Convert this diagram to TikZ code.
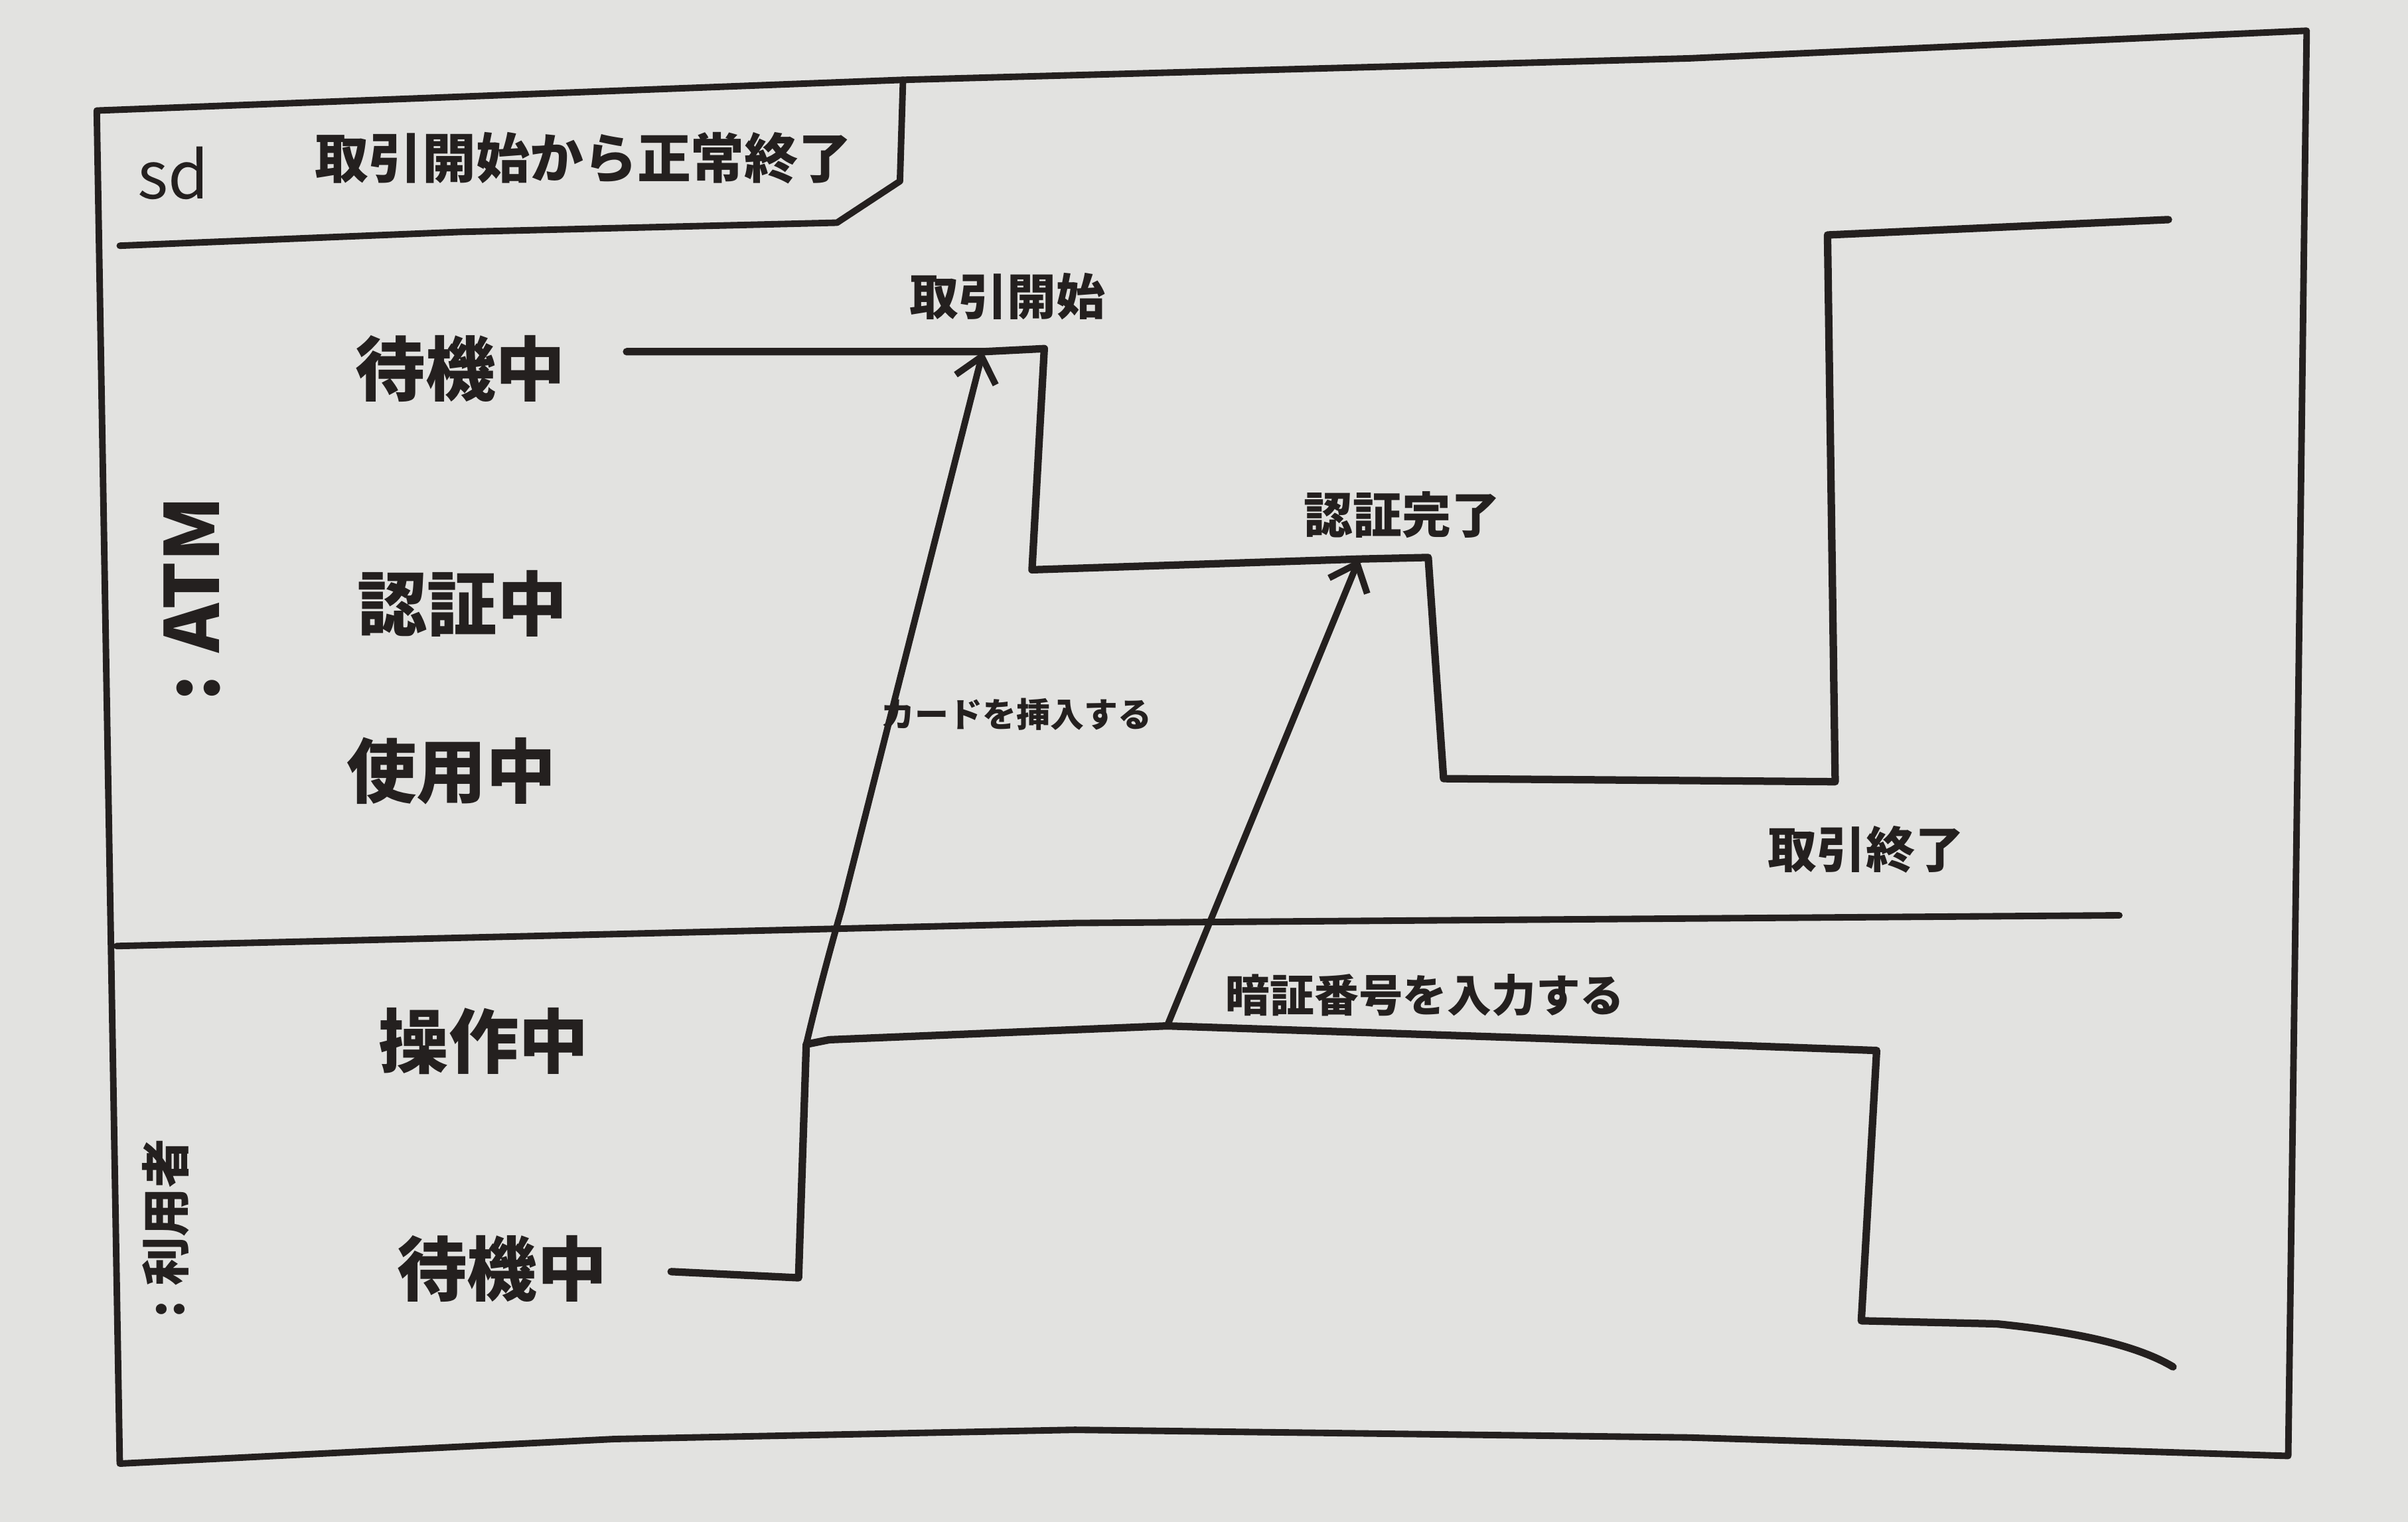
\documentclass[tikz,border=0pt]{standalone}
\usepackage{fontspec}
\setmainfont{Noto Sans CJK JP}
\usetikzlibrary{arrows.meta}
\definecolor{board}{RGB}{226,226,224}
\definecolor{ink}{RGB}{36,32,31}
\begin{document}
\begin{tikzpicture}[x=0.023138cm,y=-0.023138cm,
  pen/.style={draw=ink,line width=2.8pt,line cap=round,line join=round},
  wave/.style={pen,line width=3.2pt},
  msg/.style={pen,line width=2.8pt,-{Straight Barb[length=0.36cm,width=0.62cm,line width=2.8pt]}},
  txt/.style={text=ink,inner sep=0pt},
  state/.style={txt,font=\fontsize{30}{34}\selectfont\bfseries},
  event/.style={txt,font=\fontsize{21}{24}\selectfont\bfseries},
  small/.style={txt,font=\fontsize{14.5}{17}\selectfont\bfseries},
  lifeline/.style={txt,rotate=90}]
% whiteboard
\fill[board] (0,0) rectangle (1568,991);
\useasboundingbox (0,0) rectangle (1568,991);

% outer frame
\draw[pen] (63,72) -- (588,52) -- (1100,38) -- (1502,20) -- (1496,500)
  -- (1490,948) -- (1100,936) -- (700,931) -- (400,937) -- (78,953) -- cycle;
% title tab
\draw[pen] (588,52) -- (586,118) -- (545,145) -- (300,151) -- (78,160);
\node[txt,font=\fontsize{28}{32}\selectfont] (sd) at (113,113) {sd};
\node[txt,font=\fontsize{23}{28}\selectfont\bfseries] (title) at (380,103) {取引開始から正常終了};

% lane divider
\draw[pen] (76,616) -- (700,601) -- (1380,596);

% lifeline names
\node[lifeline,font=\fontsize{32}{36}\selectfont\bfseries] (atm) at (125,390) {: ATM};
\node[lifeline,font=\fontsize{21}{24}\selectfont\bfseries] (user) at (108,800) {: 利用者};

% state names
\node[state] (aWait) at (300,240) {待機中};
\node[state] (aAuth) at (301,393) {認証中};
\node[state] (aUse)  at (294,502) {使用中};
\node[state] (uOp)   at (315,678) {操作中};
\node[state] (uWait) at (327,826) {待機中};

% ATM state line
\coordinate (a0) at (408,229);
\coordinate (a1) at (640,229);
\coordinate (a2) at (680,227);
\coordinate (a3) at (672,371);
\coordinate (b1) at (885,364);
\coordinate (a4) at (930,363);
\coordinate (a5) at (940,507);
\coordinate (a6) at (1195,509);
\coordinate (a7) at (1190,153);
\coordinate (a8) at (1412,143);
\draw[wave] (a0) -- (a1) -- (a2) -- (a3) -- (b1) -- (a4) -- (a5) -- (a6) -- (a7) -- (a8);

% user state line
\coordinate (u0) at (437,828);
\coordinate (u1) at (520,832);
\coordinate (u2) at (525,680);
\coordinate (u3) at (760,668);
\coordinate (u4) at (1222,684);
\coordinate (u5) at (1212,860);
\coordinate (u6) at (1300,862);
\coordinate (u7) at (1415,890);
\draw[wave] (u0) -- (u1) -- (u2) -- (540,677) -- (u3) -- (1000,676) -- (u4)
  -- (u5) -- (u6) .. controls (1360,868) and (1395,878) .. (u7);

% messages
\draw[msg] (u2) .. controls (532,650) and (540,620) .. (548,592) -- (a1);
\draw[msg] (u3) -- (b1);

% event labels
\node[event] (evStart) at (656,193) {取引開始};
\node[event] (evAuth)  at (913,335) {認証完了};
\node[event] (evEnd)   at (1215,553) {取引終了};
\node[small] (mCard)   at (662,465) {カードを挿入する};
\node[txt,font=\fontsize{19}{22}\selectfont\bfseries] (mPin) at (928,648) {暗証番号を入力する};
\end{tikzpicture}
\end{document}
